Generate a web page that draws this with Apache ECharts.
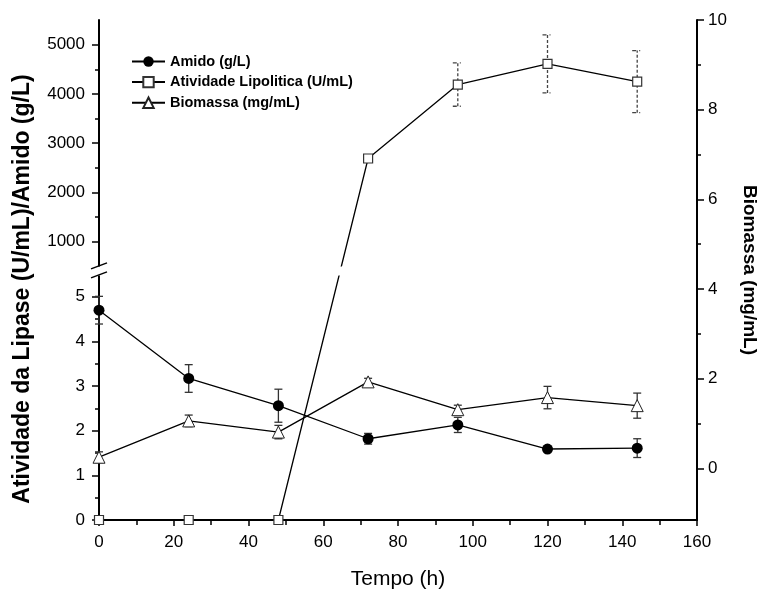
<!DOCTYPE html>
<html><head><meta charset="utf-8">
<script src="https://cdn.jsdelivr.net/npm/echarts@6/dist/echarts.min.js"></script>
<style>html,body{margin:0;padding:0;background:#fff;overflow:hidden}#c{width:762px;height:594px}</style>
</head><body><div id="c"></div>
<script>
// ---- data ----
const hours = [0, 24, 48, 72, 96, 120, 144];
const amido = [4.70, 3.17, 2.56, 1.82, 2.13, 1.59, 1.61];
const amidoErr = [0.31, 0.31, 0.37, 0.12, 0.17, 0.05, 0.21];
const lipase = [0, 0, 0, 2690, 4190, 4610, 4250];
const lipaseErr = [0, 0, 0, 40, 440, 590, 630];
const biomassa = [0.25, 1.06, 0.81, 1.93, 1.31, 1.58, 1.40];
const biomassaErr = [0.12, 0.13, 0.15, 0.08, 0.10, 0.25, 0.28];

const leftLowerTicks = [0, 1, 2, 3, 4, 5];
const leftUpperTicks = [1000, 2000, 3000, 4000, 5000];
const leftLowerMinor = [0.5, 1.5, 2.5, 3.5, 4.5];
const leftUpperMinor = [1500, 2500, 3500, 4500];
const rightTicks = [0, 2, 4, 6, 8, 10];
const rightMinor = [1, 3, 5, 7, 9];

const names = ['Amido (g/L)', 'Atividade Lipolitica (U/mL)', 'Biomassa (mg/mL)'];

// ---- broken left axis (lower: 0..5.58, upper: 410..5500) ----
const LOWER_MAX = 5.58, UPPER_MIN = 410, UPPER_MAX = 5500, COMP_MAX = 11.2;
function toComp(v) { return v <= LOWER_MAX ? v : LOWER_MAX + (v - UPPER_MIN) / (UPPER_MAX - UPPER_MIN) * (COMP_MAX - LOWER_MAX); }
function fromComp(c) { return c <= LOWER_MAX + 1e-9 ? c : UPPER_MIN + (c - LOWER_MAX) / (COMP_MAX - LOWER_MAX) * (UPPER_MAX - UPPER_MIN); }

const FONT = '"Liberation Sans", Arial, sans-serif';
const leftMajor = leftLowerTicks.concat(leftUpperTicks.map(toComp));
const leftMinor = leftLowerMinor.concat(leftUpperMinor.map(toComp));

function errRender(opt) {
  return function (params, api) {
    const x = api.value(0);
    const lo = api.coord([x, api.value(1)]);
    const hi = api.coord([x, api.value(2)]);
    const st = { stroke: opt.color, lineWidth: opt.width, fill: null };
    const vst = Object.assign({}, st, opt.vdash ? { lineDash: opt.vdash } : {});
    const cst = Object.assign({}, st, opt.cdash ? { lineDash: opt.cdash } : {});
    return {
      type: 'group',
      children: [
        { type: 'line', shape: { x1: lo[0], y1: lo[1], x2: hi[0], y2: hi[1] }, style: vst },
        { type: 'line', shape: { x1: hi[0] - opt.capL, y1: hi[1], x2: hi[0] + opt.capR, y2: hi[1] }, style: cst },
        { type: 'line', shape: { x1: lo[0] - opt.capL, y1: lo[1], x2: lo[0] + opt.capR, y2: lo[1] }, style: cst }
      ]
    };
  };
}

const amidoErrData = hours.map((h, i) => [h, amido[i] - amidoErr[i], amido[i] + amidoErr[i]]);
const bioErrData = hours.map((h, i) => [h, biomassa[i] - biomassaErr[i], biomassa[i] + biomassaErr[i]]);
const lipErrData = hours.map((h, i) => [h, toComp(lipase[i] - lipaseErr[i]), toComp(lipase[i] + lipaseErr[i])]).filter((d, i) => lipaseErr[i] > 0);

const chart = echarts.init(document.getElementById('c'), null, { renderer: 'canvas', width: 762, height: 594 });
const axisLineStyle = { color: '#000', width: 2 };
const option = {
  animation: false,
  backgroundColor: '#fff',
  textStyle: { fontFamily: FONT },
  grid: { left: 99, right: 65, top: 20, bottom: 74, containLabel: false, outerBoundsMode: 'none' },
  legend: {
    data: names, orient: 'vertical', left: 126, top: 49,
    itemWidth: 33, itemHeight: 13, itemGap: 5.6,
    textStyle: { fontFamily: FONT, fontWeight: 'bold', fontSize: 14.5, color: '#000' }
  },
  xAxis: [
    {
      type: 'value', position: 'bottom', min: 0, max: 160, interval: 20,
      axisLine: { lineStyle: axisLineStyle },
      axisTick: { length: 6, lineStyle: { color: '#000', width: 1.5 } },
      minorTick: { show: true, splitNumber: 2, length: 4, lineStyle: { color: '#000', width: 1.5 } },
      axisLabel: { fontSize: 17, color: '#000', margin: 14, fontFamily: FONT },
      splitLine: { show: false },
      name: 'Tempo (h)', nameLocation: 'middle', nameGap: 49,
      nameTextStyle: { fontSize: 21, color: '#000', fontFamily: FONT }
    },
    {
      type: 'value', position: 'top', min: 0, max: 160, interval: 10,
      axisLine: { lineStyle: axisLineStyle },
      axisTick: { inside: true, length: 5, lineStyle: { color: '#000', width: 1.5 } },
      axisLabel: { show: false }, splitLine: { show: false }
    }
  ],
  yAxis: [
    {
      type: 'value', position: 'left', min: 0, max: COMP_MAX, offset: 0,
      axisLine: { show: true, lineStyle: axisLineStyle },
      axisTick: { show: true, length: 7, customValues: leftMajor, lineStyle: { color: '#000', width: 1.5 } },
      axisLabel: {
        customValues: leftMajor, fontSize: 17, color: '#000', margin: 14, fontFamily: FONT,
        formatter: v => v <= LOWER_MAX + 1e-6 ? String(Math.round(v)) : String(Math.round(fromComp(v) / 100) * 100)
      },
      splitLine: { show: false },
      name: 'Atividade da Lipase (U/mL)/Amido (g/L)', nameLocation: 'middle', nameGap: 65, nameRotate: 90,
      nameTextStyle: { fontSize: 23, fontWeight: 'bold', color: '#000', fontFamily: FONT, padding: [0, 38, 0, 0] }
    },
    {
      type: 'value', position: 'left', min: 0, max: COMP_MAX, offset: 0,
      axisLine: { show: false },
      axisTick: { show: true, length: 4, customValues: leftMinor, lineStyle: { color: '#000', width: 1.5 } },
      axisLabel: { show: false }, splitLine: { show: false }
    },
    {
      type: 'value', position: 'right', min: -1.15, max: 10, offset: 0,
      axisLine: { show: true, lineStyle: axisLineStyle },
      axisTick: { show: true, length: 7, customValues: rightTicks, lineStyle: { color: '#000', width: 1.5 } },
      axisLabel: { customValues: rightTicks, fontSize: 17, color: '#000', margin: 11, fontFamily: FONT },
      splitLine: { show: false },
      name: 'Biomassa (mg/mL)', nameLocation: 'middle', nameGap: 43, nameRotate: -90,
      nameTextStyle: { fontSize: 19, fontWeight: 'bold', color: '#000', fontFamily: FONT }
    },
    {
      type: 'value', position: 'right', min: -1.15, max: 10, offset: 0,
      axisLine: { show: false },
      axisTick: { show: true, length: 4, customValues: rightMinor, lineStyle: { color: '#000', width: 1.5 } },
      axisLabel: { show: false }, splitLine: { show: false }
    }
  ],
  series: [
    {
      name: names[0], type: 'line', xAxisIndex: 0, yAxisIndex: 0, z: 5,
      data: hours.map((h, i) => [h, amido[i]]),
      symbol: 'circle', symbolSize: 11,
      itemStyle: { color: '#000' }, lineStyle: { color: '#000', width: 1.3 }
    },
    {
      name: names[1], type: 'line', xAxisIndex: 0, yAxisIndex: 0, z: 5,
      data: hours.map((h, i) => [h, toComp(lipase[i])]),
      symbol: 'rect', symbolSize: 9,
      itemStyle: { color: '#fff', borderColor: '#333', borderWidth: 1.2 },
      lineStyle: { color: '#000', width: 1.3 }
    },
    {
      name: names[2], type: 'line', xAxisIndex: 0, yAxisIndex: 2, z: 5,
      data: hours.map((h, i) => [h, biomassa[i]]),
      symbol: 'triangle', symbolSize: 12,
      itemStyle: { color: '#fff', borderColor: '#222', borderWidth: 1 },
      lineStyle: { color: '#000', width: 1.3 }
    },
    {
      type: 'custom', xAxisIndex: 0, yAxisIndex: 0, z: 3, encode: { x: 0, y: [1, 2] },
      data: amidoErrData, renderItem: errRender({ color: '#333', width: 1.3, capL: 4, capR: 4 })
    },
    {
      type: 'custom', xAxisIndex: 0, yAxisIndex: 2, z: 3, encode: { x: 0, y: [1, 2] },
      data: bioErrData, renderItem: errRender({ color: '#333', width: 1.3, capL: 4, capR: 4 })
    },
    {
      type: 'custom', xAxisIndex: 0, yAxisIndex: 0, z: 3, encode: { x: 0, y: [1, 2] },
      data: lipErrData, renderItem: errRender({ color: '#444', width: 1.3, capL: 5, capR: 3, vdash: [3, 2], cdash: [4, 3, 1, 3] })
    }
  ]
};
chart.setOption(option);

// axis break marks, positioned from the axis scale
const yb = chart.convertToPixel({ yAxisIndex: 0 }, LOWER_MAX);
const xL = chart.convertToPixel({ xAxisIndex: 0 }, 0);
const xR = chart.convertToPixel({ xAxisIndex: 0 }, 160);
chart.setOption({
  graphic: [
    { type: 'rect', z: 100, shape: { x: xL - 3, y: yb - 4.5, width: xR - xL - 1, height: 9 }, style: { fill: '#fff' } },
    { type: 'line', z: 101, shape: { x1: xL - 8, y1: yb - 2, x2: xL + 8, y2: yb - 8 }, style: { stroke: '#000', lineWidth: 1.5 } },
    { type: 'line', z: 101, shape: { x1: xL - 8, y1: yb + 7, x2: xL + 8, y2: yb + 1 }, style: { stroke: '#000', lineWidth: 1.5 } }
  ]
});
</script>
</body></html>
